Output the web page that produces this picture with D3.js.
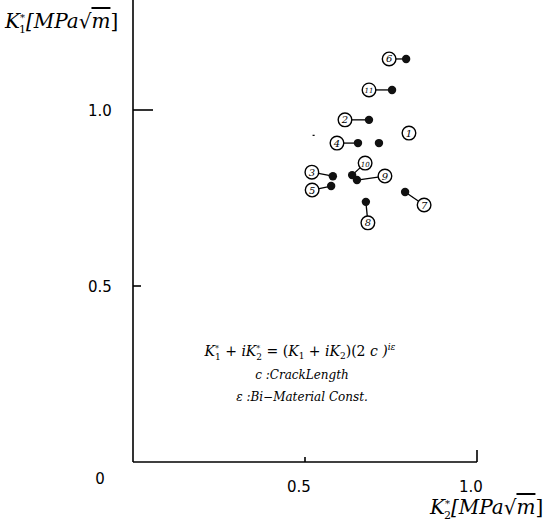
<!DOCTYPE html>
<html>
<head>
<meta charset="utf-8">
<script src="https://cdn.jsdelivr.net/npm/d3@7"></script>
<style>
  body { margin: 0; background: #fff; }
  svg { display: block; }
  .serif { font-family: "DejaVu Serif", "Liberation Serif", serif; font-style: italic; }
  .tick { font-family: "DejaVu Sans", sans-serif; font-size: 15px; }
</style>
</head>
<body>
<svg class="chart" width="543" height="523"></svg>
<script>
// K2* (x) and K1* (y) values
var pointLabels = ["6", "11", "2", "1", "4", "10", "9", "3", "5", "7", "8"];
var k2Values = [0.794, 0.753, 0.686, 0.715, 0.654, 0.637, 0.651, 0.581, 0.576, 0.791, 0.677];
var k1Values = [1.145, 1.057, 0.972, 0.906, 0.906, 0.815, 0.801, 0.812, 0.784, 0.767, 0.739];
var xTicks = [0.5, 1.0];
var yTicks = [0.5, 1.0];

// where each circled number sits relative to its dot (px), and whether a leader is drawn
var labelOffsets = [[-17, 0], [-23, 0], [-24, 0], [30, -10], [-21, 0], [13, -12],
                    [28, -4], [-21, -4], [-19, 4], [19, 13], [2, 21]];
var hasLeader = [1, 1, 1, 0, 1, 1, 1, 1, 1, 1, 1];

var points = pointLabels.map(function(lab, i) {
    return { label: lab, k2: k2Values[i], k1: k1Values[i],
             dx: labelOffsets[i][0], dy: labelOffsets[i][1], leader: hasLeader[i] };
});

var svg = d3.select(".chart");

var x = d3.scaleLinear().domain([0, 1]).range([133, 477]);
var y = d3.scaleLinear().domain([0, 1]).range([462, 110]);

var axis = svg.append("g")
    .attr("stroke", "#000")
    .attr("stroke-width", 1.6)
    .attr("fill", "none");

// y axis line runs off the top
axis.append("line")
    .attr("x1", x(0)).attr("x2", x(0))
    .attr("y1", 0).attr("y2", y(0));
axis.append("line")
    .attr("x1", x(0)).attr("x2", x(1))
    .attr("y1", y(0)).attr("y2", y(0));

// ticks: long one at 1.0 on y, short ones elsewhere
axis.selectAll(".yt")
    .data(yTicks)
    .enter()
    .append("line")
    .attr("x1", x(0))
    .attr("x2", function(d) { return d == 1 ? x(0) + 20 : x(0) + 8; })
    .attr("y1", function(d) { return y(d); })
    .attr("y2", function(d) { return y(d); });

axis.selectAll(".xt")
    .data(xTicks)
    .enter()
    .append("line")
    .attr("x1", function(d) { return x(d); })
    .attr("x2", function(d) { return x(d); })
    .attr("y1", y(0))
    .attr("y2", function(d) { return d == 1 ? y(0) - 12 : y(0) - 5; });

svg.selectAll(".ylab")
    .data(yTicks)
    .enter()
    .append("text")
    .attr("class", "tick")
    .attr("x", 100)
    .attr("y", function(d) { return y(d) + 6; })
    .attr("text-anchor", "middle")
    .text(function(d) { return d3.format(".1f")(d); });

svg.append("text")
    .attr("class", "tick")
    .attr("x", 100)
    .attr("y", 484)
    .attr("text-anchor", "middle")
    .text("0");

svg.selectAll(".xlab")
    .data(xTicks)
    .enter()
    .append("text")
    .attr("class", "tick")
    .attr("x", function(d) { return x(d) - 6; })
    .attr("y", 492)
    .attr("text-anchor", "middle")
    .text(function(d) { return d3.format(".1f")(d); });

// axis titles K*[MPa sqrt m]
function kTitle(g, sub, px, py) {
    var t = g.append("text")
        .attr("class", "serif")
        .attr("x", px)
        .attr("y", py)
        .attr("font-size", 20);
    t.append("tspan").text("K");
    t.append("tspan").attr("dx", 0).attr("dy", -7).attr("font-size", 10).text("*");
    t.append("tspan").attr("dx", -6).attr("dy", 12).attr("font-size", 11).attr("font-style", "normal").text(sub);
    t.append("tspan").attr("dy", -5).text("[MPa");
    t.append("tspan").attr("font-style", "normal").text("√");
    t.append("tspan").style("text-decoration", "overline").text("m");
    t.append("tspan").attr("font-style", "normal").text("]");
}
kTitle(svg, "1", 5, 28);
kTitle(svg, "2", 430, 514);

// leaders
svg.selectAll(".leader")
    .data(points.filter(function(p) { return p.leader; }))
    .enter()
    .append("line")
    .attr("stroke", "#000")
    .attr("stroke-width", 1.3)
    .attr("x1", function(p) { return x(p.k2); })
    .attr("y1", function(p) { return y(p.k1); })
    .attr("x2", function(p) { return x(p.k2) + p.dx; })
    .attr("y2", function(p) { return y(p.k1) + p.dy; });

svg.selectAll(".dot")
    .data(points)
    .enter()
    .append("circle")
    .attr("cx", function(p) { return x(p.k2); })
    .attr("cy", function(p) { return y(p.k1); })
    .attr("r", 4.2)
    .attr("fill", "#111");

var tag = svg.selectAll(".tag")
    .data(points)
    .enter()
    .append("g")
    .attr("transform", function(p) {
        return "translate(" + (x(p.k2) + p.dx) + "," + (y(p.k1) + p.dy) + ")";
    });
tag.append("circle")
    .attr("r", 6.8)
    .attr("fill", "#fff")
    .attr("stroke", "#000")
    .attr("stroke-width", 1.4);
tag.append("text")
    .attr("class", "serif")
    .attr("text-anchor", "middle")
    .attr("y", 3.5)
    .attr("font-size", function(p) { return p.label.length > 1 ? 7 : 10; })
    .text(function(p) { return p.label; });

// stray dash left of point 4
svg.append("line")
    .attr("stroke", "#000")
    .attr("stroke-width", 1.2)
    .attr("x1", x(0.522)).attr("x2", x(0.528))
    .attr("y1", y(0.928)).attr("y2", y(0.928));

// formula block
var note = svg.append("g").attr("class", "serif");
var f = note.append("text").attr("x", 300).attr("y", 356).attr("text-anchor", "middle").attr("font-size", 14);
f.append("tspan").text("K");
f.append("tspan").attr("dy", -5).attr("font-size", 8).text("*");
f.append("tspan").attr("dx", -4).attr("dy", 9).attr("font-size", 9).attr("font-style", "normal").text("1");
f.append("tspan").attr("dy", -4).attr("font-style", "normal").text(" + ");
f.append("tspan").text("iK");
f.append("tspan").attr("dy", -5).attr("font-size", 8).text("*");
f.append("tspan").attr("dx", -4).attr("dy", 9).attr("font-size", 9).attr("font-style", "normal").text("2");
f.append("tspan").attr("dy", -4).attr("font-style", "normal").text(" = (");
f.append("tspan").text("K");
f.append("tspan").attr("dy", 3).attr("font-size", 9).attr("font-style", "normal").text("1");
f.append("tspan").attr("dy", -3).attr("font-style", "normal").text(" + ");
f.append("tspan").text("iK");
f.append("tspan").attr("dy", 3).attr("font-size", 9).attr("font-style", "normal").text("2");
f.append("tspan").attr("dy", -3).attr("font-style", "normal").text(")(2 ");
f.append("tspan").text("c )");
f.append("tspan").attr("dy", -6).attr("font-size", 9).text("iε");

note.append("text").attr("x", 302).attr("y", 379).attr("text-anchor", "middle").attr("font-size", 12)
    .text("c :CrackLength");
note.append("text").attr("x", 302).attr("y", 401).attr("text-anchor", "middle").attr("font-size", 12)
    .text("ε :Bi−Material Const.");
</script>
</body>
</html>
